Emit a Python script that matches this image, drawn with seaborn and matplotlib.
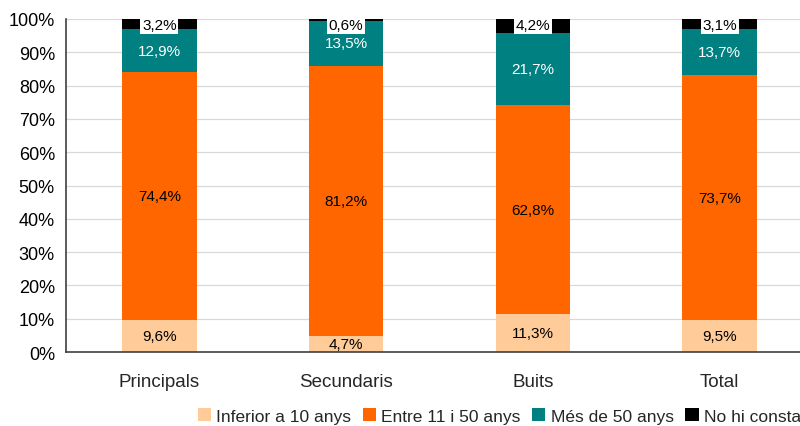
import numpy as np
import pandas as pd
import seaborn as sns
import matplotlib.pyplot as plt
from matplotlib.patches import Patch

categories = ['Principals', 'Secundaris', 'Buits', 'Total']
inferior_10 = [9.6, 4.7, 11.3, 9.5]
entre_11_50 = [74.4, 81.2, 62.8, 73.7]
mes_50 = [12.9, 13.5, 21.7, 13.7]
no_consta = [3.2, 0.6, 4.2, 3.1]
series_names = ['Inferior a 10 anys', 'Entre 11 i 50 anys', 'Més de 50 anys', 'No hi consta']
colors = ['#FFCC99', '#FF6600', '#008080', '#000000']

sns.set_style('white')
plt.rcParams['font.family'] = ['Liberation Sans', 'DejaVu Sans']

layers = [inferior_10, entre_11_50, mes_50, no_consta]
df = pd.DataFrame({name: vals for name, vals in zip(series_names, layers)}, index=categories)
cum = df.cumsum(axis=1)

fig = plt.figure(figsize=(8, 4.27), dpi=100)
ax = fig.add_axes([66 / 800, 1 - 353 / 427, (813 - 66) / 800, (353 - 20) / 427])

# stacked bars: draw cumulative totals, top layer first
for i in range(3, -1, -1):
    sns.barplot(x=categories, y=cum.iloc[:, i].values, color=colors[i], width=0.4,
                saturation=1, ax=ax, zorder=2, linewidth=0)

ax.set_ylim(0, 100)
ax.set_xlim(-0.5, 3.5)
ax.set_yticks(np.arange(0, 101, 10))
ax.set_yticklabels([f'{v}%' for v in range(0, 101, 10)], fontsize=13)
ax.yaxis.grid(True, color='#d9d9d9', linewidth=0.9, zorder=0)
ax.set_axisbelow(True)

# category ticks between the bars
ax.set_xticks([-0.5, 0.5, 1.5, 2.5, 3.5])
ax.set_xticklabels([])
ax.set_xticks(range(4), minor=True)
ax.set_xticklabels(categories, minor=True, fontsize=13.5)
ax.tick_params(axis='x', which='major', length=6, color='#404040', direction='out')
ax.tick_params(axis='x', which='minor', length=0, pad=15)
ax.tick_params(axis='y', length=5, color='#404040', direction='out', pad=3)
ax.tick_params(axis='both', colors='#404040', labelcolor='black')

for side in ['top', 'right']:
    ax.spines[side].set_visible(False)
for side in ['left', 'bottom']:
    ax.spines[side].set_color('#404040')
    ax.spines[side].set_linewidth(1.2)

def fmt(v):
    return f'{v:.1f}'.replace('.', ',') + '%'

for j in range(4):
    base = 0
    for i, vals in enumerate(layers):
        v = vals[j]
        if i < 3:
            y = base + v / 2
            ax.text(j, y, fmt(v), ha='center', va='center', fontsize=11,
                    color='white' if i == 2 else 'black', zorder=5)
        else:
            ax.text(j, 98.2, fmt(v), ha='center', va='center', fontsize=11,
                    color='black', zorder=5,
                    bbox=dict(facecolor='white', edgecolor='none', pad=1.2))
        base += v

handles = [Patch(facecolor=c, edgecolor='none') for c in colors]
fig.legend(handles, series_names, loc='center left', bbox_to_anchor=(198 / 800, 1 - 417 / 427),
           ncol=4, frameon=False, fontsize=12.5, handlelength=0.75, handleheight=0.75,
           handletextpad=0.3, columnspacing=0.68, borderaxespad=0, borderpad=0)

fig.savefig('out.png', dpi=100)
